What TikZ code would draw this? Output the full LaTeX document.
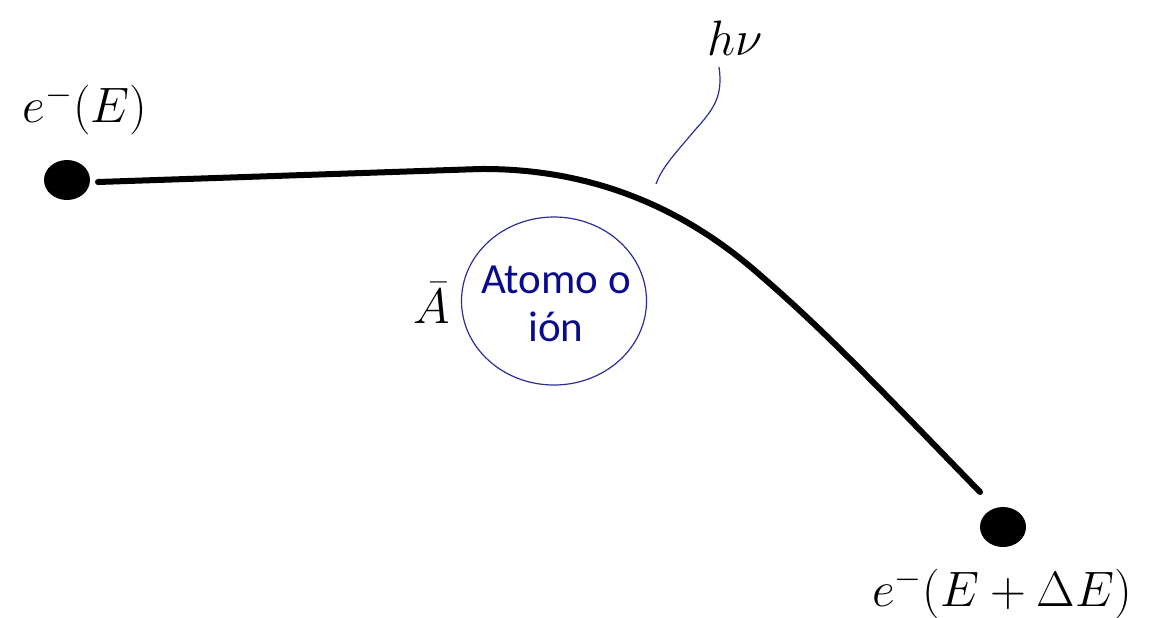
\documentclass[tikz,border=0pt]{standalone}
\usepackage{fontspec}
\newfontfamily\calib{Carlito}
\usetikzlibrary{shapes.geometric}
\definecolor{navyline}{RGB}{45,45,150}
\definecolor{navytext}{RGB}{10,10,140}
\tikzset{
  electron/.style={ellipse, fill=black, inner sep=0pt, minimum width=23pt, minimum height=20pt},
  mathlabel/.style={inner sep=0pt, font=\fontsize{24}{28}\selectfont},
  track/.style={line width=3pt, line cap=round},
  atomshape/.style={ellipse, draw=navyline, line width=0.6pt, minimum width=92.5pt, minimum height=84pt, inner sep=0pt},
  atomtext/.style={inner sep=0pt, align=center, text=navytext, font=\calib\fontsize{21.5}{24}\selectfont},
  photon/.style={draw=navyline, line width=0.6pt}
}
\begin{document}
\begin{tikzpicture}[x=0.5pt,y=-0.5pt]
\useasboundingbox (0,0) rectangle (1149,617);
\node[electron] (dotL) at (67,180) {};
\node[electron] (dotR) at (1003,527) {};
\node[mathlabel] (eL) at (85,110) {$e^{-}(E)$};
\node[mathlabel] (eR) at (1002,594) {$e^{-}(E+\Delta E)$};
\node[mathlabel] (hnu) at (735,38) {$h\nu$};
\node[mathlabel] (Abar) at (432,303) {$\bar{A}$};
\node[atomshape] (atom) at (554,301) {};
\node[atomtext] (atomlbl) at (556,304) {Atomo o\\ión};
\coordinate (s) at (98,182);
\coordinate (t) at (980,492);
\coordinate (k) at (480,169);
\coordinate (m) at (760,275);
\draw[track] (s) -- (k) .. controls (610,168) and (700,222) .. (m)
  .. controls (830,335) and (900,410) .. (t);
\coordinate (p0) at (719,67);
\coordinate (p1) at (656,184);
\draw[photon] (p0) .. controls (723,95) and (715,108) .. (695,130)
  .. controls (672,157) and (662,168) .. (p1);
\end{tikzpicture}
\end{document}
